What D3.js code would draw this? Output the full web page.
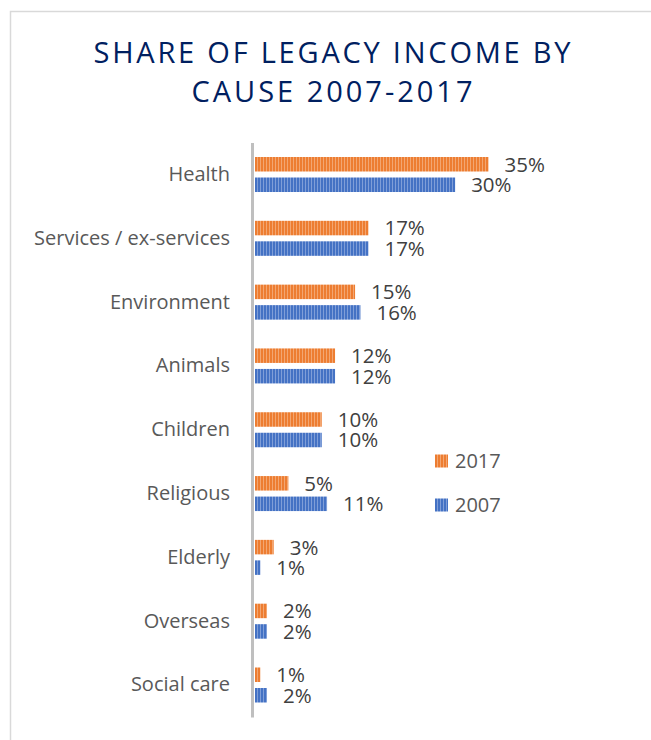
<!DOCTYPE html>
<html>
<head>
<meta charset="utf-8">
<script src="https://cdn.jsdelivr.net/npm/d3@7"></script>
<style>
body { margin: 0; background: #fff; }
svg text { font-family: "Open Sans", sans-serif; }
</style>
</head>
<body>
<svg id="chart" width="651" height="740"></svg>
<script>

/// Data
var causes = ["Health", "Services / ex-services", "Environment", "Animals",
              "Children", "Religious", "Elderly", "Overseas", "Social care"];
var years = ["2017", "2007"];
var share2017 = [35, 17, 15, 12, 10, 5, 2.8, 1.8, 0.8];
var share2007 = [30, 17, 15.8, 12, 10, 10.8, 0.8, 1.8, 1.8];
var titleLines = ["SHARE OF LEGACY INCOME BY", "CAUSE 2007-2017"];

var colors = {"2017": ["#ED7D31", "#F3A671"], "2007": ["#4472C4", "#7F9ED8"]};

var svg = d3.select("#chart");

/// stripe patterns
var defs = svg.append("defs");
years.forEach(function(yr){
  var p = defs.append("pattern")
      .attr("id", "stripe" + yr)
      .attr("patternUnits", "userSpaceOnUse")
      .attr("width", 3).attr("height", 10);
  p.append("rect").attr("width", 3).attr("height", 10).attr("fill", colors[yr][0]);
  p.append("rect").attr("x", 2).attr("width", 1).attr("height", 10).attr("fill", colors[yr][1]);
});

/// frame
svg.append("path")
    .attr("d", "M10.5,740 V11.5 H651")
    .attr("fill", "none")
    .attr("stroke", "#d9d9d9")
    .attr("stroke-width", 1.5);

/// title
svg.append("g").selectAll("text")
  .data(titleLines)
  .join("text")
    .attr("x", 332)
    .attr("y", function(d, i){ return 63 + i * 39; })
    .attr("text-anchor", "middle")
    .attr("font-size", 29)
    .attr("fill", "#002060")
    .attr("textLength", function(d, i){ return i === 0 ? 477 : 281; })
    .attr("lengthAdjust", "spacing")
    .text(function(d){ return d; });

var x = d3.scaleLinear().domain([0, 35]).range([255, 488.5]);
var y = d3.scaleBand().domain(causes).range([142.6, 716.9]);
var y1 = d3.scaleBand().domain(years).range([-17.5, 17.5]).paddingInner(0.293);

var rows = causes.map(function(c, i){
  return {cause: c, values: [{year: "2017", v: share2017[i]}, {year: "2007", v: share2007[i]}]};
});

var fmt = d3.format(".0f");

var groups = svg.append("g").selectAll("g")
  .data(rows)
  .join("g")
    .attr("transform", function(d){ return "translate(0," + (y(d.cause) + y.bandwidth() / 2) + ")"; });

groups.selectAll("rect")
  .data(function(d){ return d.values; })
  .join("rect")
    .attr("x", x(0))
    .attr("y", function(d){ return y1(d.year); })
    .attr("width", function(d){ return x(d.v) - x(0); })
    .attr("height", y1.bandwidth())
    .attr("fill", function(d){ return "url(#stripe" + d.year + ")"; });

groups.selectAll("text.val")
  .data(function(d){ return d.values; })
  .join("text")
    .attr("class", "val")
    .attr("x", function(d){ return x(d.v) + 16; })
    .attr("y", function(d){ return y1(d.year) + y1.bandwidth() / 2; })
    .attr("dy", "0.36em")
    .attr("font-size", 20.5)
    .attr("fill", "#404040")
    .text(function(d){ return fmt(d.v) + "%"; });

/// category axis
var yAxis = svg.append("g")
    .attr("transform", "translate(252,0)")
    .call(d3.axisLeft(y).tickSize(0).tickPadding(22));
yAxis.select(".domain").attr("stroke", "#bfbfbf").attr("stroke-width", 3);
yAxis.selectAll("text")
    .attr("font-size", 20)
    .attr("font-family", "'Open Sans', sans-serif")
    .attr("fill", "#595959");

/// legend
var legend = svg.append("g").selectAll("g")
  .data(years)
  .join("g")
    .attr("transform", function(d, i){ return "translate(435," + (461 + i * 44) + ")"; });
legend.append("rect")
    .attr("y", -6.5).attr("width", 13).attr("height", 13)
    .attr("fill", function(d){ return "url(#stripe" + d + ")"; });
legend.append("text")
    .attr("x", 20).attr("dy", "0.36em")
    .attr("font-size", 20)
    .attr("fill", "#595959")
    .text(function(d){ return d; });

</script>
</body>
</html>
